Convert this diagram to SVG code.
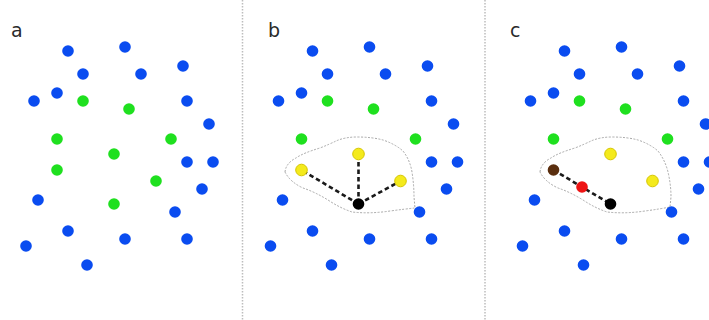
<svg xmlns="http://www.w3.org/2000/svg" width="709" height="320" viewBox="0 0 709 320">
<style>
.b{fill:#0a4cf0}
.g{fill:#1fe01f}
.y{fill:#f4ea1c;stroke:#d6c600;stroke-width:1}
.k{fill:#000}
.br{fill:#5a2e0e}
.r{fill:#ee1414}
circle{r:5.8px}
.lbl{font-family:"DejaVu Sans",sans-serif;font-size:19px;fill:#2a2a2a}
.sep{stroke:#bdbdbd;stroke-width:1.5;stroke-dasharray:1.5 1.5;fill:none}
.blob{fill:none;stroke:#a8a8a8;stroke-width:1;stroke-dasharray:2 1.5;stroke-linejoin:round}
.edge{stroke:#1a1a1a;stroke-width:2.6;stroke-dasharray:4.5 3;fill:none}
</style>
<rect width="709" height="320" fill="#fff"/>
<g id="separators">
<line class="sep" x1="242.5" y1="0" x2="242.5" y2="320"/>
<line class="sep" x1="485" y1="0" x2="485" y2="320"/>
</g>
<g id="labels">
<text class="lbl" x="11" y="37">a</text>
<text class="lbl" x="268" y="37">b</text>
<text class="lbl" x="510" y="37">c</text>
</g>
<g id="blobs">
<path class="blob" d="M285,172 Q286,163 296,158 Q303,153 320,148 Q330,144 336,141 Q345,137 357,137 Q372,137 383,140 Q395,144 403,151 Q410,160 412,172 Q414,185 414,197 L415,208 Q405,209 390,211 Q370,214 352,212 Q340,208 328,200 Q315,192 303,188 Q290,182 285,172 Z"/>
<path class="blob" d="M540,172 Q541,163 551,158 Q558,153 575,148 Q585,144 591,141 Q600,137 612,137 Q627,137 638,140 Q650,144 658,151 Q665,160 668,172 Q671,185 671,197 L670,207 Q660,209 645,211 Q625,214 607,212 Q595,208 583,200 Q570,192 558,188 Q545,182 540,172 Z"/>
</g>
<g id="connectors">
<line class="edge" x1="358.5" y1="204" x2="301.5" y2="170"/>
<line class="edge" x1="358.5" y1="204" x2="358.5" y2="154"/>
<line class="edge" x1="358.5" y1="204" x2="400.5" y2="181"/>
<line class="edge" x1="553.5" y1="170" x2="610.5" y2="204"/>
</g>
<g id="panel-a">
<circle id="a1" class="b" cx="68" cy="51" r="5.8"/>
<circle id="a2" class="b" cx="125" cy="47" r="5.8"/>
<circle id="a3" class="b" cx="83" cy="74" r="5.8"/>
<circle id="a4" class="b" cx="141" cy="74" r="5.8"/>
<circle id="a5" class="b" cx="183" cy="66" r="5.8"/>
<circle id="a6" class="b" cx="34" cy="101" r="5.8"/>
<circle id="a7" class="b" cx="57" cy="93" r="5.8"/>
<circle id="a8" class="g" cx="83" cy="101" r="5.8"/>
<circle id="a9" class="g" cx="129" cy="109" r="5.8"/>
<circle id="a10" class="b" cx="187" cy="101" r="5.8"/>
<circle id="a11" class="b" cx="209" cy="124" r="5.8"/>
<circle id="a12" class="g" cx="57" cy="139" r="5.8"/>
<circle id="a13" class="g" cx="171" cy="139" r="5.8"/>
<circle id="a14" class="g" cx="114" cy="154" r="5.8"/>
<circle id="a15" class="b" cx="187" cy="162" r="5.8"/>
<circle id="a16" class="b" cx="213" cy="162" r="5.8"/>
<circle id="a17" class="g" cx="57" cy="170" r="5.8"/>
<circle id="a18" class="g" cx="156" cy="181" r="5.8"/>
<circle id="a19" class="b" cx="202" cy="189" r="5.8"/>
<circle id="a20" class="b" cx="38" cy="200" r="5.8"/>
<circle id="a21" class="g" cx="114" cy="204" r="5.8"/>
<circle id="a22" class="b" cx="175" cy="212" r="5.8"/>
<circle id="a23" class="b" cx="68" cy="231" r="5.8"/>
<circle id="a24" class="b" cx="26" cy="246" r="5.8"/>
<circle id="a25" class="b" cx="125" cy="239" r="5.8"/>
<circle id="a26" class="b" cx="187" cy="239" r="5.8"/>
<circle id="a27" class="b" cx="87" cy="265" r="5.8"/>
</g>
<g id="panel-b">
<circle id="b1" class="b" cx="312.5" cy="51" r="5.8"/>
<circle id="b2" class="b" cx="369.5" cy="47" r="5.8"/>
<circle id="b3" class="b" cx="327.5" cy="74" r="5.8"/>
<circle id="b4" class="b" cx="385.5" cy="74" r="5.8"/>
<circle id="b5" class="b" cx="427.5" cy="66" r="5.8"/>
<circle id="b6" class="b" cx="278.5" cy="101" r="5.8"/>
<circle id="b7" class="b" cx="301.5" cy="93" r="5.8"/>
<circle id="b8" class="g" cx="327.5" cy="101" r="5.8"/>
<circle id="b9" class="g" cx="373.5" cy="109" r="5.8"/>
<circle id="b10" class="b" cx="431.5" cy="101" r="5.8"/>
<circle id="b11" class="b" cx="453.5" cy="124" r="5.8"/>
<circle id="b12" class="g" cx="301.5" cy="139" r="5.8"/>
<circle id="b13" class="g" cx="415.5" cy="139" r="5.8"/>
<circle id="b14" class="y" cx="358.5" cy="154" r="5.8"/>
<circle id="b15" class="b" cx="431.5" cy="162" r="5.8"/>
<circle id="b16" class="b" cx="457.5" cy="162" r="5.8"/>
<circle id="b17" class="y" cx="301.5" cy="170" r="5.8"/>
<circle id="b18" class="y" cx="400.5" cy="181" r="5.8"/>
<circle id="b19" class="b" cx="446.5" cy="189" r="5.8"/>
<circle id="b20" class="b" cx="282.5" cy="200" r="5.8"/>
<circle id="b21" class="k" cx="358.5" cy="204" r="5.8"/>
<circle id="b22" class="b" cx="419.5" cy="212" r="5.8"/>
<circle id="b23" class="b" cx="312.5" cy="231" r="5.8"/>
<circle id="b24" class="b" cx="270.5" cy="246" r="5.8"/>
<circle id="b25" class="b" cx="369.5" cy="239" r="5.8"/>
<circle id="b26" class="b" cx="431.5" cy="239" r="5.8"/>
<circle id="b27" class="b" cx="331.5" cy="265" r="5.8"/>
</g>
<g id="panel-c">
<circle id="c1" class="b" cx="564.5" cy="51" r="5.8"/>
<circle id="c2" class="b" cx="621.5" cy="47" r="5.8"/>
<circle id="c3" class="b" cx="579.5" cy="74" r="5.8"/>
<circle id="c4" class="b" cx="637.5" cy="74" r="5.8"/>
<circle id="c5" class="b" cx="679.5" cy="66" r="5.8"/>
<circle id="c6" class="b" cx="530.5" cy="101" r="5.8"/>
<circle id="c7" class="b" cx="553.5" cy="93" r="5.8"/>
<circle id="c8" class="g" cx="579.5" cy="101" r="5.8"/>
<circle id="c9" class="g" cx="625.5" cy="109" r="5.8"/>
<circle id="c10" class="b" cx="683.5" cy="101" r="5.8"/>
<circle id="c11" class="b" cx="705.5" cy="124" r="5.8"/>
<circle id="c12" class="g" cx="553.5" cy="139" r="5.8"/>
<circle id="c13" class="g" cx="667.5" cy="139" r="5.8"/>
<circle id="c14" class="y" cx="610.5" cy="154" r="5.8"/>
<circle id="c15" class="b" cx="683.5" cy="162" r="5.8"/>
<circle id="c16" class="b" cx="709.5" cy="162" r="5.8"/>
<circle id="c17" class="br" cx="553.5" cy="170" r="5.8"/>
<circle id="c18" class="y" cx="652.5" cy="181" r="5.8"/>
<circle id="c19" class="b" cx="698.5" cy="189" r="5.8"/>
<circle id="c20" class="b" cx="534.5" cy="200" r="5.8"/>
<circle id="c21" class="k" cx="610.5" cy="204" r="5.8"/>
<circle id="c22" class="b" cx="671.5" cy="212" r="5.8"/>
<circle id="c23" class="b" cx="564.5" cy="231" r="5.8"/>
<circle id="c24" class="b" cx="522.5" cy="246" r="5.8"/>
<circle id="c25" class="b" cx="621.5" cy="239" r="5.8"/>
<circle id="c26" class="b" cx="683.5" cy="239" r="5.8"/>
<circle id="c27" class="b" cx="583.5" cy="265" r="5.8"/>
<circle id="c-red" class="r" cx="582" cy="187" r="5.8"/>
</g>
</svg>
